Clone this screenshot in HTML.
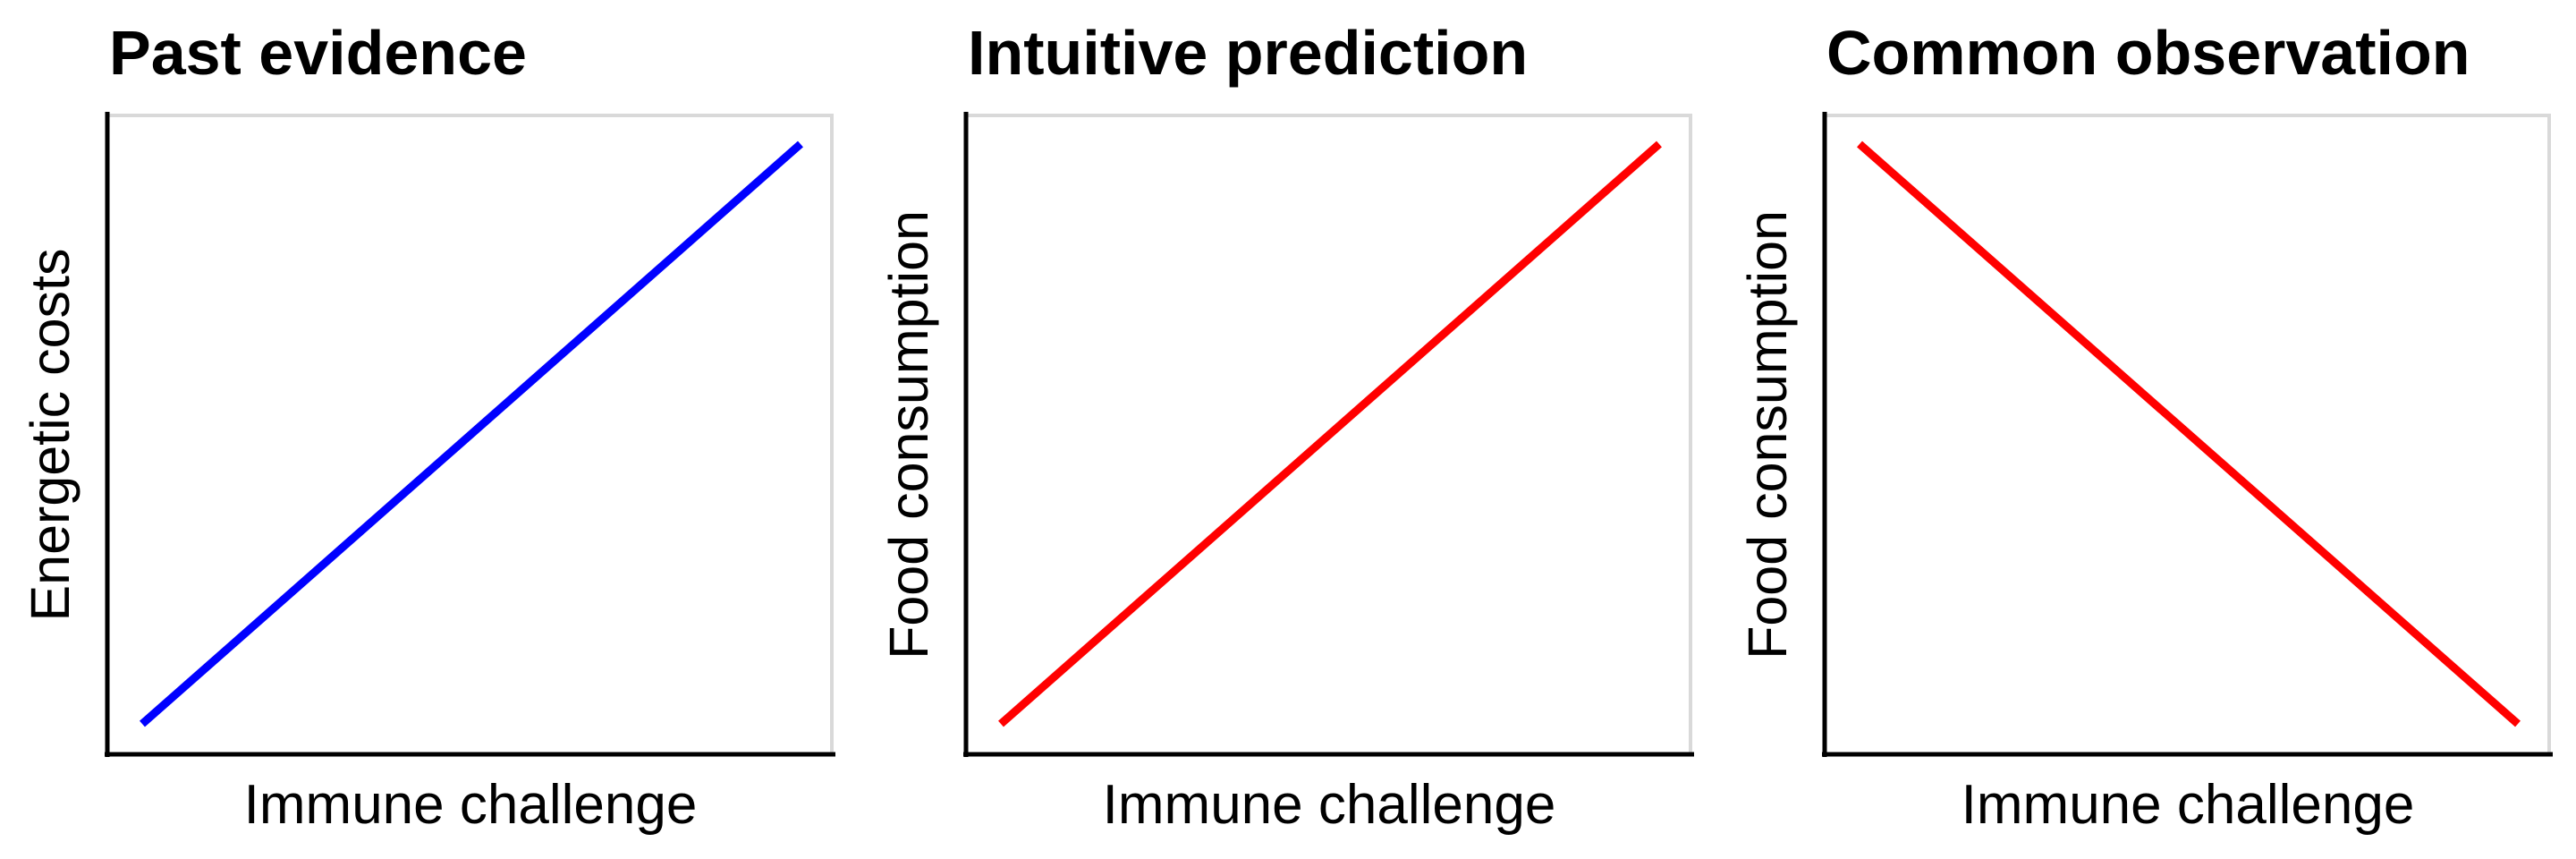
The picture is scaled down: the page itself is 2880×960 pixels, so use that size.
<!DOCTYPE html>
<html><head><meta charset="utf-8"><style>
html,body{margin:0;padding:0;background:#fff;}
svg{display:block;font-family:"Liberation Sans",Arial,sans-serif;}
</style></head><body>
<svg id="fig" width="2880" height="960" viewBox="0 0 2880 960" xmlns="http://www.w3.org/2000/svg"></svg>
<script>
const titles = ["Past evidence", "Intuitive prediction", "Common observation"];
const yLabels = ["Energetic costs", "Food consumption", "Food consumption"];
const xLabel = "Immune challenge";
const xValues = [0, 1];
const series1 = [0, 1];
const series2 = [0, 1];
const series3 = [1, 0];
const seriesColors = ["#0000ff", "#ff0000", "#ff0000"];

const allSeries = [series1, series2, series3];
const svg = document.getElementById('fig');
const NS = 'http://www.w3.org/2000/svg';
function mk(tag, attrs, parent) {
  const e = document.createElementNS(NS, tag);
  for (const k in attrs) e.setAttribute(k, attrs[k]);
  parent.appendChild(e);
  return e;
}
const slugs = ["past-evidence", "intuitive-prediction", "common-observation"];
for (let p = 0; p < 3; p++) {
  const ox = p * 960;
  const g = mk('g', {}, svg);
  
  
  const L = ox + 120, R = ox + 930, T = 129, B = 843;
  const xs = v => L + 39 + v * 736;
  const ys = v => B - 34 - v * 648;
  const frame = mk('rect', {x: L, y: T, width: R - L, height: B - T, fill: 'none', stroke: '#d9d9d9', 'stroke-width': 4}, g);
  
  
  const ya = mk('line', {x1: L, y1: T - 4, x2: L, y2: B + 3, stroke: '#000', 'stroke-width': 5}, g);
  
  
  const xa = mk('line', {x1: L - 3, y1: B, x2: R + 4, y2: B, stroke: '#000', 'stroke-width': 5}, g);
  
  
  const s = allSeries[p];
  const pts = xValues.map((x, i) => xs(x) + ',' + ys(s[i])).join(' ');
  const ln = mk('polyline', {points: pts, fill: 'none', stroke: seriesColors[p], 'stroke-width': 9}, g);
  
  
  const t = mk('text', {x: ox + 122, y: 83, 'font-size': 70, 'font-weight': 'bold', fill: '#000'}, g);
  t.textContent = titles[p];
  
  
  const xl = mk('text', {x: ox + 526, y: 920, 'font-size': 62, 'text-anchor': 'middle', fill: '#000'}, g);
  xl.textContent = xLabel;
  
  
  const yl = mk('text', {x: 0, y: 0, 'font-size': 61, 'text-anchor': 'middle', fill: '#000', transform: 'translate(' + (ox + 77) + ',486) rotate(-90)'}, g);
  yl.textContent = yLabels[p];
  
  
}
</script>
</body></html>
